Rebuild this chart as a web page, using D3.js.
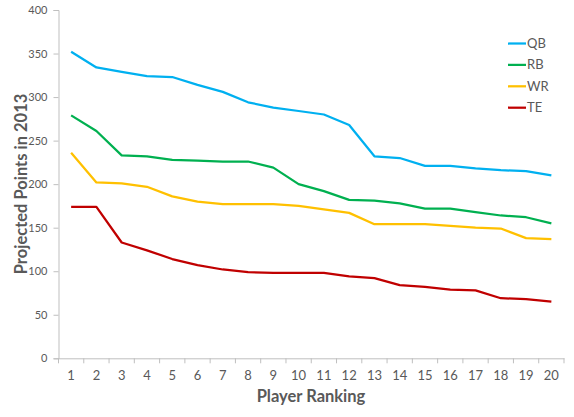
<!DOCTYPE html>
<html>
<head>
<meta charset="utf-8">
<script src="https://cdn.jsdelivr.net/npm/d3@7"></script>
<style>
  body { margin: 0; background: #fff; }
  text { font-family: Lato, "Open Sans", "Liberation Sans", sans-serif; }
</style>
</head>
<body>
<div id="chart"></div>
<script>
var ranks = d3.range(1, 21);
var seriesNames = ["QB", "RB", "WR", "TE"];
var qb = [352, 334, 329, 324, 323, 314, 306, 294, 288, 284, 280, 268, 232, 230, 221, 221, 218, 216, 215, 210];
var rb = [279, 261, 233, 232, 228, 227, 226, 226, 219, 200, 192, 182, 181, 178, 172, 172, 168, 164, 162, 155];
var wr = [236, 202, 201, 197, 186, 180, 177, 177, 177, 175, 171, 167, 154, 154, 154, 152, 150, 149, 138, 137];
var te = [174, 174, 133, 124, 114, 107, 102, 99, 98, 98, 98, 94, 92, 84, 82, 79, 78, 69, 68, 65];
var yTicks = [0, 50, 100, 150, 200, 250, 300, 350, 400];
var colors = ["#00b0f0", "#00b050", "#ffc000", "#c00000"];

function init(){
    var w = 574;
    var h = 417;
    var left = 58.5, right = 564, top = 10, bottom = 358.3;

    var svg = d3.select("#chart")
                .append("svg")
                .attr("width", w)
                .attr("height", h);

    var x = d3.scaleBand()
              .domain(ranks)
              .range([left, right]);

    var y = d3.scaleLinear()
              .domain([0, 400])
              .range([bottom, top]);

    // y axis
    var yAxis = svg.append("g")
        .attr("transform", "translate(" + left + ",0)")
        .call(d3.axisLeft(y).tickValues(yTicks).tickSize(5).tickPadding(6));
    yAxis.select(".domain").attr("stroke", "#bfbfbf");
    yAxis.selectAll(".tick line").attr("stroke", "#bfbfbf");
    yAxis.selectAll(".tick text")
        .attr("fill", "#595959")
        .style("font-size", "11px");

    // x axis, ticks sit between categories
    var xAxis = svg.append("g")
        .attr("transform", "translate(0," + bottom + ")")
        .call(d3.axisBottom(x).tickSize(0).tickPadding(12));
    xAxis.select(".domain").attr("stroke", "#bfbfbf");
    xAxis.selectAll(".tick text")
        .attr("fill", "#595959")
        .style("font-size", "13px");
    xAxis.selectAll(".sep")
        .data(d3.range(0, 21))
        .enter()
        .append("line")
        .attr("x1", function(d){ return left + d * x.step(); })
        .attr("x2", function(d){ return left + d * x.step(); })
        .attr("y1", 0)
        .attr("y2", 5)
        .attr("stroke", "#bfbfbf");

    // lines
    var all = [qb, rb, wr, te];
    var line = d3.line()
        .x(function(d, i){ return x(ranks[i]) + x.bandwidth() / 2; })
        .y(function(d){ return y(d); });

    svg.selectAll("path.series")
        .data(all)
        .enter()
        .append("path")
        .attr("class", "series")
        .attr("d", line)
        .attr("fill", "none")
        .attr("stroke", function(d, i){ return colors[i]; })
        .attr("stroke-width", 2.25)
        .attr("stroke-linejoin", "round");

    // legend
    var leg = svg.selectAll("g.leg")
        .data(seriesNames)
        .enter()
        .append("g")
        .attr("class", "leg")
        .attr("transform", function(d, i){ return "translate(508," + (43.5 + i * 21.4) + ")"; });
    leg.append("line")
        .attr("x1", 0).attr("x2", 18)
        .attr("stroke", function(d, i){ return colors[i]; })
        .attr("stroke-width", 2.25);
    leg.append("text")
        .attr("x", 19)
        .attr("dy", "0.35em")
        .attr("fill", "#595959")
        .style("font-size", "13px")
        .text(function(d){ return d; });

    // titles
    svg.append("text")
        .attr("x", 311)
        .attr("y", 402)
        .attr("text-anchor", "middle")
        .attr("fill", "#595959")
        .style("font-size", "16.5px")
        .style("font-weight", "bold")
        .text("Player Ranking");

    svg.append("text")
        .attr("transform", "translate(27,184) rotate(-90)")
        .attr("text-anchor", "middle")
        .attr("fill", "#595959")
        .style("font-size", "16.5px")
        .style("font-weight", "bold")
        .text("Projected Points in 2013");
}
window.onload = init;
</script>
</body>
</html>
